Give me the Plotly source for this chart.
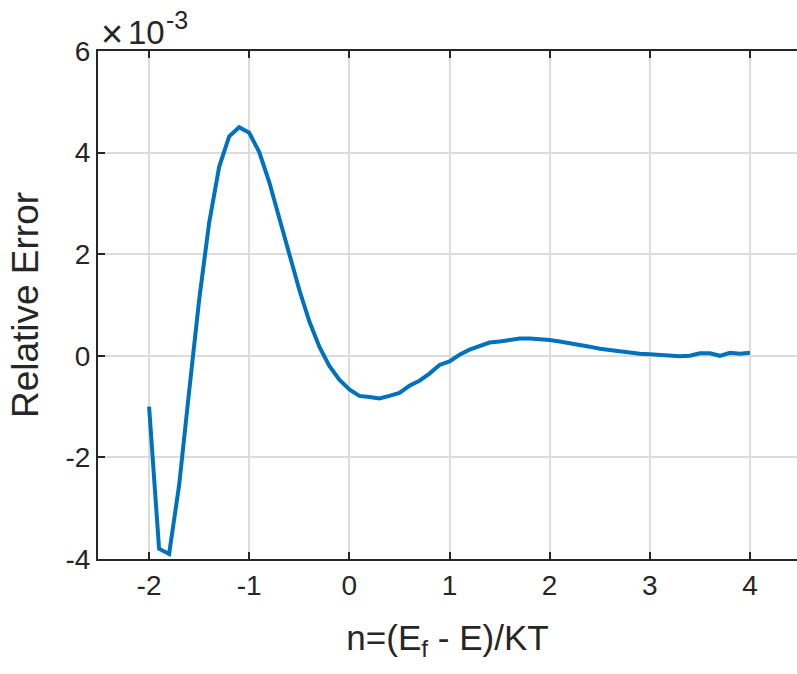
import plotly.graph_objects as go

# Relative error of the approximation, sampled every 0.1 in n
n_values = [round(-2.0 + 0.1 * i, 1) for i in range(61)]
rel_error_e3 = [
    -1.00, -3.80, -3.90, -2.55, -0.70, 1.10, 2.62, 3.72, 4.32, 4.50,
    4.39, 4.01, 3.42, 2.72, 2.00, 1.30, 0.68, 0.18, -0.20, -0.47,
    -0.66, -0.79, -0.81, -0.84, -0.79, -0.73, -0.59, -0.49, -0.35, -0.18,
    -0.11, 0.02, 0.12, 0.18, 0.26, 0.28, 0.31, 0.34, 0.34, 0.33,
    0.31, 0.28, 0.25, 0.21, 0.18, 0.14, 0.11, 0.09, 0.06, 0.04,
    0.03, 0.01, 0.00, -0.01, 0.00, 0.05, 0.05, 0.00, 0.06, 0.04,
    0.06,
]
scale = 1e-3

x_ticks = [-2, -1, 0, 1, 2, 3, 4]
x_tick_text = ["-2", "-1", "0", "1", "2", "3", "4"]
y_ticks_e3 = [-4, -2, 0, 2, 4, 6]
y_tick_text = ["-4", "-2", "0", "2", "4", "6"]

rel_error = [v * scale for v in rel_error_e3]

axis_color = "#262626"
grid_color = "#dcdcdc"
font_family = "Liberation Sans"

fig = go.Figure()
fig.add_trace(go.Scatter(
    x=n_values, y=rel_error, mode="lines",
    line=dict(color="#0072BD", width=4),
    showlegend=False, hoverinfo="skip",
))

fig.update_layout(
    width=797, height=674,
    margin=dict(l=98, r=0, t=51, b=115),
    paper_bgcolor="white", plot_bgcolor="white",
    font=dict(family=font_family, color=axis_color, size=28),
)

fig.update_xaxes(
    range=[-2.51, 4.47],
    tickvals=x_ticks, ticktext=x_tick_text,
    tickfont=dict(size=28, color=axis_color),
    ticks="inside", ticklen=7, tickwidth=2, tickcolor=axis_color,
    showline=True, linecolor=axis_color, linewidth=2, mirror="ticks",
    showgrid=True, gridcolor=grid_color, gridwidth=1.5,
    zeroline=False,
    title=dict(text="n=(E<sub>f</sub> - E)/KT",
               font=dict(size=35, color=axis_color), standoff=26),
)

fig.update_yaxes(
    range=[y_ticks_e3[0] * scale, y_ticks_e3[-1] * scale],
    tickvals=[v * scale for v in y_ticks_e3], ticktext=y_tick_text,
    tickfont=dict(size=28, color=axis_color),
    ticks="inside", ticklen=7, tickwidth=2, tickcolor=axis_color,
    showline=True, linecolor=axis_color, linewidth=2,
    showgrid=True, gridcolor=grid_color, gridwidth=1.5,
    zeroline=False,
    title=dict(text="Relative Error",
               font=dict(size=37, color=axis_color), standoff=16),
)

# Exponent marker above the y axis: "×", "10" and the raised "-3"
exp_parts = [
    ("×", 112, 34, 38),
    ("10", 146, 32, 33),
    ("-3", 177, 20, 25),
]
for label, px, py, size in exp_parts:
    fig.add_annotation(
        x=(px - 98) / 699, y=(559 - py) / 508, xref="paper", yref="paper",
        xanchor="center", yanchor="middle",
        text=label, showarrow=False,
        font=dict(size=size, color=axis_color, family=font_family),
    )

fig.write_html("out.html")
